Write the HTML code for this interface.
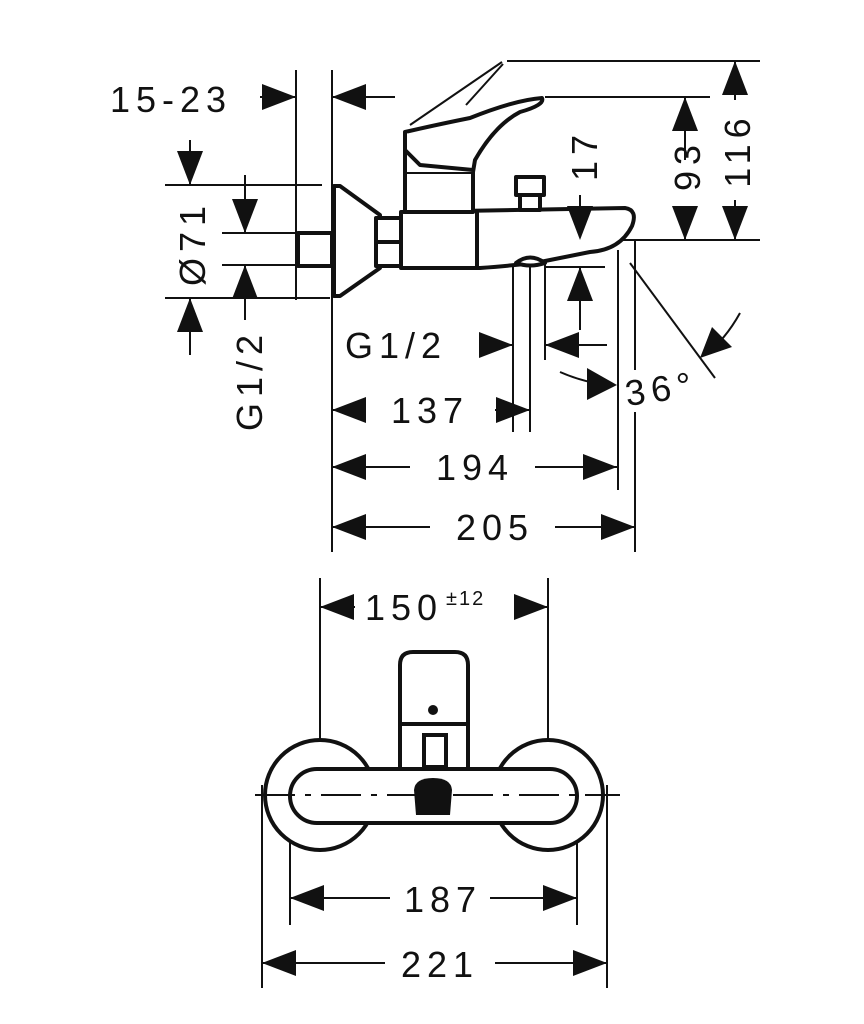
<!DOCTYPE html>
<html><head><style>
html,body{margin:0;padding:0;background:#fff}
svg{display:block}
text{font-family:"Liberation Sans",sans-serif;font-size:36px;fill:#111;letter-spacing:6px}
</style></head><body>
<svg width="864" height="1024" viewBox="0 0 864 1024" xmlns="http://www.w3.org/2000/svg">
<g stroke="#111" stroke-width="2" fill="none">
<line x1="296" y1="70" x2="296" y2="300"/>
<line x1="332" y1="70" x2="332" y2="552"/>
<line x1="260" y1="97" x2="296" y2="97"/>
<line x1="332" y1="97" x2="395" y2="97"/>
<line x1="165" y1="185" x2="322" y2="185"/>
<line x1="165" y1="298" x2="330" y2="298"/>
<line x1="222" y1="233" x2="300" y2="233"/>
<line x1="222" y1="265" x2="300" y2="265"/>
<line x1="190" y1="140" x2="190" y2="185"/>
<line x1="190" y1="298" x2="190" y2="355"/>
<line x1="245" y1="175" x2="245" y2="233"/>
<line x1="245" y1="265" x2="245" y2="320"/>
<line x1="507" y1="61" x2="760" y2="61"/>
<line x1="545" y1="97" x2="710" y2="97"/>
<line x1="410" y1="240" x2="760" y2="240"/>
<line x1="685" y1="97" x2="685" y2="160"/>
<line x1="685" y1="207" x2="685" y2="240"/>
<line x1="735" y1="61" x2="735" y2="100"/>
<line x1="735" y1="200" x2="735" y2="240"/>
<line x1="580" y1="195" x2="580" y2="240"/>
<line x1="580" y1="267" x2="580" y2="330"/>
<line x1="545" y1="267" x2="605" y2="267"/>
<line x1="513" y1="262" x2="513" y2="432"/>
<line x1="530" y1="262" x2="530" y2="432"/>
<line x1="545" y1="262" x2="545" y2="360"/>
<line x1="618" y1="250" x2="618" y2="490"/>
<line x1="635" y1="240" x2="635" y2="370"/>
<line x1="635" y1="412" x2="635" y2="552"/>
<line x1="488" y1="345" x2="513" y2="345"/>
<line x1="545" y1="345" x2="607" y2="345"/>
<line x1="630" y1="263" x2="715" y2="378"/>
<path d="M740 313 Q725 340 705 355"/>
<path d="M560 372 Q585 383 610 385"/>
<line x1="332" y1="410" x2="360" y2="410"/><line x1="495" y1="410" x2="530" y2="410"/>
<line x1="332" y1="467" x2="410" y2="467"/><line x1="535" y1="467" x2="617" y2="467"/>
<line x1="332" y1="527" x2="430" y2="527"/><line x1="555" y1="527" x2="635" y2="527"/>
<line x1="320" y1="578" x2="320" y2="840"/>
<line x1="548" y1="578" x2="548" y2="840"/>
<line x1="262" y1="785" x2="262" y2="988"/>
<line x1="607" y1="785" x2="607" y2="988"/>
<line x1="290" y1="805" x2="290" y2="925"/>
<line x1="577" y1="805" x2="577" y2="925"/>
<line x1="320" y1="607" x2="355" y2="607"/><line x1="515" y1="607" x2="548" y2="607"/>
<line x1="290" y1="898" x2="390" y2="898"/><line x1="490" y1="898" x2="577" y2="898"/>
<line x1="262" y1="963" x2="385" y2="963"/><line x1="495" y1="963" x2="607" y2="963"/>
</g>
<g stroke="#111" stroke-width="4" fill="#fff" stroke-linejoin="round">
<rect x="298" y="233" width="34" height="33"/>
<path d="M334 186 L340 186 L380 215 L380 268 L340 296 L334 296 Z"/>
<rect x="376" y="218" width="25" height="48"/>
<line x1="376" y1="242" x2="401" y2="242"/>
<path d="M401 212 L625 208 Q638 210 632 226 Q620 250 590 252 Q560 258 540 262 Q520 265 480 268 L401 268 Z"/>
<line x1="477" y1="212" x2="477" y2="268"/>
<rect x="405" y="172" width="68" height="40"/>
<path d="M405 172 L405 132 Q440 124 470 118 Q515 100 542 98 Q545 105 520 112 Q495 125 475 160 L473 172"/>
<path d="M405 132 L405 150 L420 165 L473 170"/>
<rect x="516" y="177" width="28" height="18"/>
<rect x="520" y="195" width="20" height="15"/>
<path d="M516 263 Q530 252 545 263 Q530 268 516 263 Z"/>
</g>
<g stroke="#111" stroke-width="2" fill="none">
<line x1="410" y1="125" x2="502" y2="62"/>
<line x1="466" y1="105" x2="503" y2="64"/>
</g>
<g stroke="#111" stroke-width="4" fill="#fff">
<circle cx="320" cy="795" r="55"/>
<circle cx="548" cy="795" r="55"/>
<rect x="400" y="722" width="68" height="50"/>
<rect x="424" y="735" width="22" height="32"/>
<rect x="290" y="769" width="287" height="54" rx="27"/>
<path d="M400 724 L400 665 Q400 652 413 652 L455 652 Q468 652 468 665 L468 724 Z"/>
</g>
<circle cx="433" cy="710" r="5" fill="#111"/>
<path d="M414 790 Q415 778 433 778 Q451 778 452 790 L450 815 L416 815 Z" fill="#111"/>
<line x1="255" y1="795" x2="620" y2="795" stroke="#111" stroke-width="2" stroke-dasharray="40 10 6 10"/>
<g fill="#111">
<polygon points="296,97 262,84 262,110"/>
<polygon points="332,97 366,84 366,110"/>
<polygon points="190,185 177,151 203,151"/>
<polygon points="190,298 177,332 203,332"/>
<polygon points="245,233 232,199 258,199"/>
<polygon points="245,265 232,299 258,299"/>
<polygon points="685,97 672,131 698,131"/>
<polygon points="685,240 672,206 698,206"/>
<polygon points="735,61 722,95 748,95"/>
<polygon points="735,240 722,206 748,206"/>
<polygon points="580,240 567,206 593,206"/>
<polygon points="580,267 567,301 593,301"/>
<polygon points="513,345 479,332 479,358"/>
<polygon points="545,345 579,332 579,358"/>
<polygon points="700,358 712,327 732,347"/>
<polygon points="617,385 587,368 587,400"/>
<polygon points="332,410 366,397 366,423"/>
<polygon points="530,410 496,397 496,423"/>
<polygon points="332,467 366,454 366,480"/>
<polygon points="617,467 583,454 583,480"/>
<polygon points="332,527 366,514 366,540"/>
<polygon points="635,527 601,514 601,540"/>
<polygon points="320,607 354,594 354,620"/>
<polygon points="548,607 514,594 514,620"/>
<polygon points="290,898 324,885 324,911"/>
<polygon points="577,898 543,885 543,911"/>
<polygon points="262,963 296,950 296,976"/>
<polygon points="607,963 573,950 573,976"/>
</g>
<text x="110" y="112">15-23</text>
<text transform="translate(205,243) rotate(-90)" text-anchor="middle">Ø71</text>
<text transform="translate(262,380) rotate(-90)" text-anchor="middle">G1/2</text>
<text transform="translate(597,155) rotate(-90)" text-anchor="middle">17</text>
<text transform="translate(700,165) rotate(-90)" text-anchor="middle">93</text>
<text transform="translate(750,150) rotate(-90)" text-anchor="middle">116</text>
<text x="345" y="358">G1/2</text>
<text x="625" y="402" transform="rotate(-8 655 390)">36°</text>
<text x="430" y="423" text-anchor="middle">137</text>
<text x="475" y="480" text-anchor="middle">194</text>
<text x="495" y="540" text-anchor="middle">205</text>
<text x="365" y="620">150</text>
<text x="446" y="605" style="font-size:20px;letter-spacing:2px">±12</text>
<text x="443" y="912" text-anchor="middle">187</text>
<text x="440" y="977" text-anchor="middle">221</text>
</svg>
</body></html>
